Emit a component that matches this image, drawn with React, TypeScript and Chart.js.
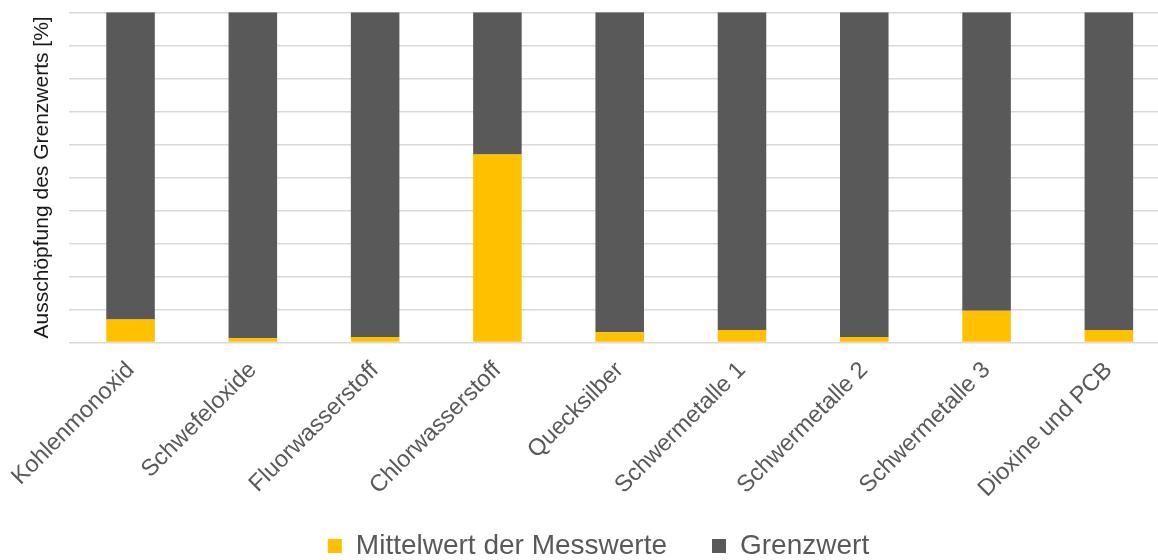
import { useEffect, useRef } from 'react';
import { Chart, registerables } from 'chart.js';

Chart.register(...registerables);

const categories = [
  'Kohlenmonoxid',
  'Schwefeloxide',
  'Fluorwasserstoff',
  'Chlorwasserstoff',
  'Quecksilber',
  'Schwermetalle 1',
  'Schwermetalle 2',
  'Schwermetalle 3',
  'Dioxine und PCB',
];
const mittelwert = [7.0, 1.3, 1.7, 56.9, 3.1, 3.8, 1.7, 9.6, 3.8];
const grenzwert = [93.0, 98.7, 98.3, 43.1, 96.9, 96.2, 98.3, 90.4, 96.2];
const seriesNames = ['Mittelwert der Messwerte', 'Grenzwert'];
const yAxisTitle = 'Ausschöpfung des Grenzwerts [%]';

const FONT = "'Liberation Sans', Arial, sans-serif";

export default function App() {
  const ref = useRef<HTMLCanvasElement | null>(null);

  useEffect(() => {
    if (!ref.current) return;
    const chart = new Chart(ref.current, {
      type: 'bar',
      data: {
        labels: categories,
        datasets: [
          {
            label: seriesNames[0],
            data: mittelwert,
            backgroundColor: '#FFC000',
            borderWidth: 0,
            barPercentage: 0.397,
            categoryPercentage: 1,
          },
          {
            label: seriesNames[1],
            data: grenzwert,
            backgroundColor: '#595959',
            borderWidth: 0,
            barPercentage: 0.397,
            categoryPercentage: 1,
          },
        ],
      },
      options: {
        responsive: false,
        animation: false,
        devicePixelRatio: 1,
        layout: { padding: { left: 27, top: 12.3, right: 0, bottom: 0 } },
        plugins: {
          tooltip: { enabled: false },
          legend: {
            position: 'bottom',
            labels: {
              font: { family: FONT, size: 28 },
              color: '#595959',
              boxWidth: 14,
              boxHeight: 14,
              padding: 45,
            },
          },
        },
        scales: {
          x: {
            stacked: true,
            grid: { display: false, drawTicks: false },
            border: { display: false },
            ticks: {
              autoSkip: false,
              minRotation: 45,
              maxRotation: 45,
              padding: 14,
              font: { family: FONT, size: 23.5 },
              color: '#595959',
            },
            afterFit: (s: any) => {
              s.height = 570 - 83 - 342.5;
              s.paddingLeft = 0;
              s.paddingRight = 0;
              s._computeLabelArea = () => undefined;
            },
          },
          y: {
            stacked: true,
            min: 0,
            max: 100,
            ticks: { display: false, stepSize: 10 },
            grid: { color: '#d9d9d9', lineWidth: 1.5, drawTicks: false },
            border: { display: false },
            title: {
              display: true,
              text: yAxisTitle,
              font: { family: FONT, size: 21 },
              color: '#1a1a1a',
              padding: { top: 3, bottom: 0 },
            },
            afterFit: (s: any) => {
              s.width = 42.4;
              s.paddingTop = 0;
              s.paddingBottom = 0;
            },
          },
        },
      },
    });
    return () => chart.destroy();
  }, []);

  return (
    <div
      style={{
        position: 'fixed',
        left: 0,
        top: 0,
        width: 1158,
        height: 560,
        overflow: 'hidden',
        background: '#ffffff',
      }}
    >
      <canvas ref={ref} width={1170} height={570} style={{ width: 1170, height: 570, display: 'block' }} />
    </div>
  );
}
